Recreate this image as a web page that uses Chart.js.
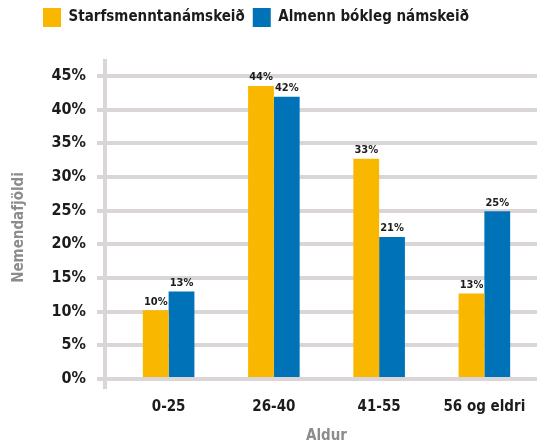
<!DOCTYPE html>
<html>
<head>
<meta charset="utf-8">
<script src="https://cdn.jsdelivr.net/npm/chart.js@4.4.0/dist/chart.umd.min.js"></script>
<style>
  html, body { margin: 0; padding: 0; background: #ffffff; }
  #wrap { width: 537px; height: 445px; position: relative; }
</style>
</head>
<body>
<div id="wrap"><canvas id="c" width="537" height="445"></canvas></div>
<script>
const categories = ['0-25', '26-40', '41-55', '56 og eldri'];
const seriesNames = ['Starfsmenntanámskeið', 'Almenn bókleg námskeið'];
const starfsmennt = [10.2, 43.5, 32.7, 12.7];
const almenn = [13.0, 41.9, 21.1, 24.9];
const yTicks = [0, 5, 10, 15, 20, 25, 30, 35, 40, 45];

const FONT = "'DejaVu Sans Condensed', 'DejaVu Sans', sans-serif";
const GRID = '#dad5d7';
const DARK = '#1c1c1c';
const TITLE = '#8c8c8c';
const TOP_PAD = 39;

const decor = {
  id: 'decor',
  afterLayout(chart) {
    const lg = chart.legend;
    if (lg) {
      const w = lg.right - lg.left;
      lg.left = 35; lg.right = lg.left + w;
      lg.top -= TOP_PAD; lg.bottom -= TOP_PAD;
    }
  },
  beforeDatasetsDraw(chart) {
    const ctx = chart.ctx, y = chart.scales.y, a = chart.chartArea;
    const x = a.left - 11;
    ctx.save();
    ctx.strokeStyle = GRID;
    ctx.lineWidth = 4;
    ctx.beginPath();
    ctx.moveTo(x, y.getPixelForValue(45) - 17);
    ctx.lineTo(x, y.getPixelForValue(0) + 10);
    ctx.stroke();
    ctx.restore();
  },
  afterDatasetsDraw(chart) {
    const ctx = chart.ctx;
    ctx.save();
    ctx.font = "bold 11px " + FONT;
    ctx.fillStyle = DARK;
    ctx.textAlign = 'center';
    ctx.textBaseline = 'bottom';
    chart.data.datasets.forEach((ds, di) => {
      const meta = chart.getDatasetMeta(di);
      meta.data.forEach((bar, i) => {
        ctx.fillText(Math.round(ds.data[i]) + '%', bar.x, bar.y - 3);
      });
    });
    ctx.restore();
  }
};

new Chart(document.getElementById('c'), {
  type: 'bar',
  data: {
    labels: categories,
    datasets: [
      { label: seriesNames[0], data: starfsmennt, backgroundColor: '#f9b700', borderWidth: 0 },
      { label: seriesNames[1], data: almenn, backgroundColor: '#0072b8', borderWidth: 0 }
    ]
  },
  options: {
    responsive: false,
    animation: false,
    devicePixelRatio: 1,
    layout: { padding: { left: 0, right: 0, top: TOP_PAD, bottom: 0 } },
    datasets: { bar: { categoryPercentage: 0.49, barPercentage: 1 } },
    plugins: {
      legend: {
        position: 'top',
        align: 'start',
        labels: {
          boxWidth: 18,
          boxHeight: 19,
          padding: 8,
          color: DARK,
          font: { family: FONT, size: 15, weight: 'bold' }
        }
      },
      tooltip: { enabled: false }
    },
    scales: {
      x: {
        grid: { display: false },
        border: { display: false },
        ticks: {
          color: DARK,
          padding: 11,
          maxRotation: 0,
          minRotation: 0,
          autoSkip: false,
          font: { family: FONT, size: 15, weight: 'bold' }
        },
        title: {
          display: true,
          text: 'Aldur',
          color: TITLE,
          padding: { top: 4, bottom: 0 },
          font: { family: FONT, size: 15, weight: 'bold' }
        },
        afterFit(s) { s.height = 66; s.paddingLeft = 0; s.paddingRight = 0; }
      },
      y: {
        min: 0,
        max: 45,
        afterBuildTicks(s) { s.ticks = yTicks.map(v => ({ value: v })); },
        grid: { color: GRID, lineWidth: 4, tickLength: 19, drawTicks: true },
        border: { display: false },
        ticks: {
          color: DARK,
          padding: 11,
          font: { family: FONT, size: 16, weight: 'bold' },
          callback: v => v + '%'
        },
        title: {
          display: true,
          text: 'Nemendafjöldi',
          color: TITLE,
          padding: { top: 10, bottom: 0 },
          font: { family: FONT, size: 15, weight: 'bold' }
        },
        afterFit(s) { s.width = 116; }
      }
    }
  },
  plugins: [decor]
});
</script>
</body>
</html>
